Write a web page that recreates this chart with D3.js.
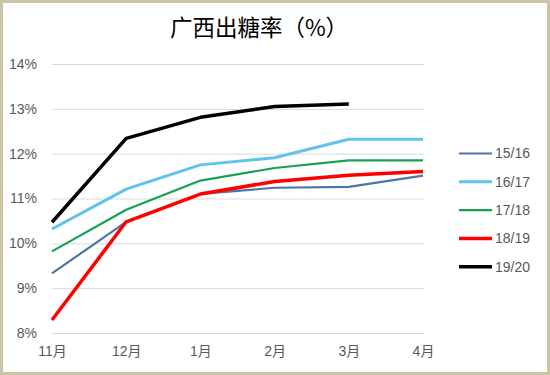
<!DOCTYPE html>
<html>
<head>
<meta charset="utf-8">
<script src="https://cdn.jsdelivr.net/npm/d3@7"></script>
<style>
  body { margin: 0; background: #fff; }
  svg { display: block; }
</style>
</head>
<body>
<div id="chart"></div>
<script>
var months = ["11月", "12月", "1月", "2月", "3月", "4月"];
var yTicks = [8, 9, 10, 11, 12, 13, 14];
var seasons = ["15/16", "16/17", "17/18", "18/19", "19/20"];
var v1516 = [9.33, 10.48, 11.10, 11.24, 11.26, 11.51];
var v1617 = [10.32, 11.21, 11.75, 11.91, 12.32, 12.32];
var v1718 = [9.82, 10.75, 11.40, 11.68, 11.85, 11.85];
var v1819 = [8.29, 10.48, 11.10, 11.38, 11.52, 11.60];
var v1920 = [10.47, 12.34, 12.81, 13.05, 13.11];

var colors = ["#4a76aa", "#5fc3ec", "#17a054", "#ff0000", "#000000"];
var widths = [2.2, 3, 2.2, 3.5, 3.5];

var svg_hw = {width: 550, height: 375};
var margin = {top: 64, right: 127, bottom: 42, left: 52};

var series = [v1516, v1617, v1718, v1819, v1920].map((vals, i) => ({
  name: seasons[i],
  values: vals.map((v, j) => ({m: months[j], v: v}))
}));

var x = d3.scalePoint()
  .domain(months)
  .range([margin.left, svg_hw.width - margin.right]);

var y = d3.scaleLinear()
  .domain([8, 14])
  .range([svg_hw.height - margin.bottom, margin.top]);

const svg = d3.select("#chart")
  .append("svg")
  .attr("width", svg_hw.width)
  .attr("height", svg_hw.height);

// 外框
svg.append("rect")
  .attr("x", 1.5).attr("y", 1.5)
  .attr("width", svg_hw.width - 3).attr("height", svg_hw.height - 3)
  .attr("fill", "#fff")
  .attr("stroke", "#cbc5a3")
  .attr("stroke-width", 3);

svg.append("text")
  .attr("x", 259).attr("y", 36)
  .attr("text-anchor", "middle")
  .attr("font-family", "'Noto Sans CJK SC', sans-serif")
  .attr("font-size", "22.5px")
  .attr("fill", "#000")
  .text("广西出糖率（%）");

// 网格线 + y轴
var yAxis = g => g
  .attr("transform", `translate(${margin.left},0)`)
  .call(d3.axisLeft(y).tickValues(yTicks).tickFormat(d => d + "%")
        .tickSize(-(x.range()[1] - x.range()[0] + 1)).tickPadding(15))
  .call(g => g.selectAll(".domain").remove())
  .call(g => g.selectAll(".tick line").attr("stroke", "#d9d9d9").attr("stroke-width", 1))
  .call(g => g.selectAll(".tick text")
        .attr("fill", "#595959")
        .attr("font-size", "14px")
        .attr("font-family", "'Liberation Sans', 'Noto Sans CJK SC', sans-serif"));

var xAxis = g => g
  .attr("transform", `translate(0,${svg_hw.height - margin.bottom})`)
  .call(d3.axisBottom(x).tickSize(0).tickPadding(13))
  .call(g => g.selectAll(".domain").remove())
  .call(g => g.selectAll(".tick text")
        .attr("fill", "#595959")
        .attr("font-size", "14px")
        .attr("font-family", "'Liberation Sans', 'Noto Sans CJK SC', sans-serif"));

svg.append("g").call(yAxis);
svg.append("g").call(xAxis);

var line = d3.line()
  .x(d => x(d.m))
  .y(d => y(d.v));

svg.append("g")
  .selectAll("path")
  .data(series)
  .join("path")
  .attr("fill", "none")
  .attr("stroke", (d, i) => colors[i])
  .attr("stroke-width", (d, i) => widths[i])
  .attr("stroke-linejoin", "round")
  .attr("d", d => line(d.values));

// 图例
var legend = svg.append("g")
  .selectAll("g")
  .data(series)
  .join("g")
  .attr("transform", (d, i) => `translate(459,${153.5 + i * 28.3})`);

legend.append("line")
  .attr("x1", 0).attr("x2", 33)
  .attr("stroke", (d, i) => colors[i])
  .attr("stroke-width", (d, i) => widths[i]);

legend.append("text")
  .attr("x", 36)
  .attr("dy", "0.35em")
  .attr("fill", "#595959")
  .attr("font-size", "14px")
  .attr("font-family", "'Liberation Sans', sans-serif")
  .text(d => d.name);
</script>
</body>
</html>
